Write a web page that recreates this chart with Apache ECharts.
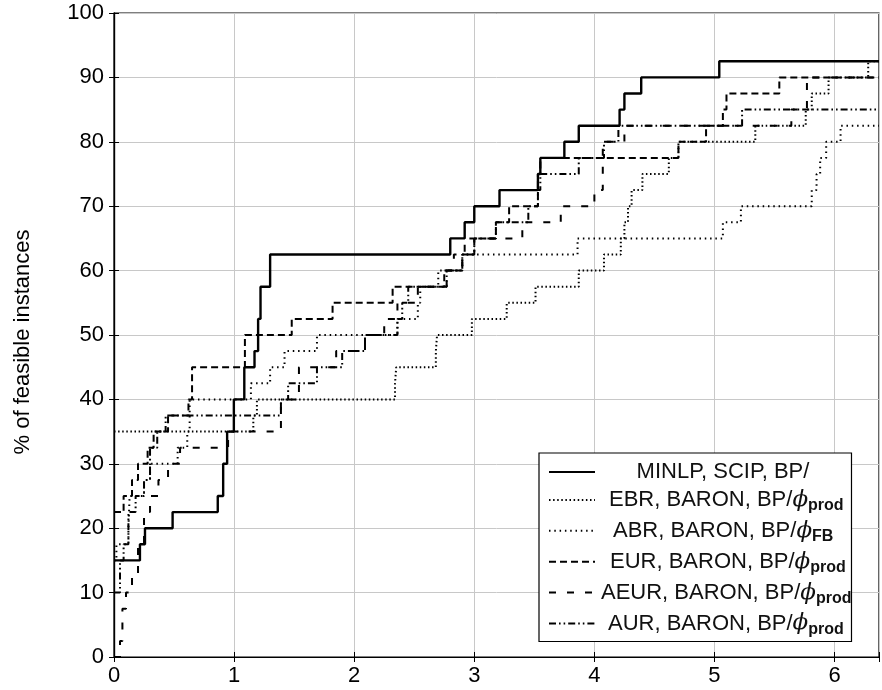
<!DOCTYPE html>
<html><head><meta charset="utf-8">
<script src="https://cdn.jsdelivr.net/npm/echarts@6/dist/echarts.min.js"></script>
<style>html,body{margin:0;padding:0;background:#fff}#c{width:882px;height:690px}</style>
</head><body><div id="c"></div>
<script>
const xTicks = [0, 1, 2, 3, 4, 5, 6];
const yTicks = [0, 10, 20, 30, 40, 50, 60, 70, 80, 90, 100];
const xMax = 6.37;

const minlpX = [0, 0.216, 0.258, 0.488, 0.864, 0.909, 0.942, 0.998, 1.085, 1.17, 1.20, 1.22, 1.30, 2.80, 2.92, 3.0, 3.21, 3.53, 3.55, 3.75, 3.87, 4.21, 4.25, 4.39, 5.04, 6.37];
const minlpY = [15, 17.5, 20, 22.5, 25, 30, 35, 40, 45, 47.5, 52.5, 57.5, 62.5, 65, 67.5, 70, 72.5, 75, 77.5, 80, 82.5, 85, 87.5, 90, 92.5, 92.5];

const ebrX = [0, 1.16, 1.19, 2.34, 2.35, 2.68, 2.69, 2.98, 3.27, 3.51, 3.87, 4.08, 4.22, 4.25, 4.28, 4.31, 4.40, 4.62, 4.70, 5.34, 5.76, 5.81, 5.95, 6.28, 6.37];
const ebrY = [35, 37.5, 40, 42.5, 45, 47.5, 50, 52.5, 55, 57.5, 60, 62.5, 65, 67.5, 70, 72.5, 75, 77.5, 80, 82.5, 85, 87.5, 90, 92.5, 92.5];

const abrX = [0, 0.02, 0.12, 0.13, 0.25, 0.30, 0.53, 0.61, 0.63, 1.14, 1.30, 1.42, 1.69, 2.36, 2.53, 2.55, 2.70, 2.90, 3.86, 5.07, 5.22, 5.81, 5.85, 5.88, 5.93, 6.05, 6.37];
const abrY = [15, 17.5, 20, 25, 27.5, 30, 32.5, 35, 40, 42.5, 45, 47.5, 50, 52.5, 55, 57.5, 60, 62.5, 65, 67.5, 70, 72.5, 75, 77.5, 80, 82.5, 82.5];

const eurX = [0, 0.08, 0.15, 0.20, 0.28, 0.33, 0.45, 0.62, 0.65, 1.09, 1.48, 1.82, 2.32, 2.75, 2.90, 3.0, 3.18, 3.29, 3.53, 3.55, 4.70, 4.93, 5.07, 5.10, 5.54, 6.37];
const eurY = [22.5, 25, 27.5, 30, 32.5, 35, 37.5, 40, 45, 50, 52.5, 55, 57.5, 60, 62.5, 65, 67.5, 70, 75, 77.5, 80, 82.5, 85, 87.5, 90, 90];

const aeurX = [0, 0.05, 0.07, 0.10, 0.15, 0.20, 0.25, 0.30, 0.37, 0.45, 0.55, 0.95, 1.39, 1.54, 1.85, 2.09, 2.25, 2.36, 2.53, 2.77, 2.83, 2.92, 3.40, 3.72, 4.00, 4.07, 4.25, 5.64, 5.77, 6.37];
const aeurY = [0, 2.5, 7.5, 10, 12.5, 17.5, 22.5, 25, 27.5, 30, 32.5, 35, 40, 45, 47.5, 50, 52.5, 55, 57.5, 60, 62.5, 65, 67.5, 70, 72.5, 80, 82.5, 85, 90, 90];

const aurX = [0, 0.05, 0.08, 0.12, 0.18, 0.25, 0.30, 0.36, 0.43, 1.39, 1.45, 1.69, 1.90, 2.09, 2.36, 2.40, 2.45, 2.77, 2.90, 3.0, 3.18, 3.45, 3.53, 3.55, 3.87, 4.08, 4.20, 5.23, 6.37];
const aurY = [10, 15, 17.5, 22.5, 25, 27.5, 32.5, 35, 37.5, 40, 42.5, 45, 47.5, 50, 52.5, 55, 57.5, 60, 62.5, 65, 67.5, 70, 72.5, 75, 77.5, 80, 82.5, 85, 85];

const names = ['MINLP, SCIP, BP/', 'EBR, BARON, BP/ϕprod', 'ABR, BARON, BP/ϕFB', 'EUR, BARON, BP/ϕprod', 'AEUR, BARON, BP/ϕprod', 'AUR, BARON, BP/ϕprod'];
const legendIndent = [0, 9, 13, 10, 1, 8];

const FONT = 'Liberation Sans';
const pairs = (xs, ys) => xs.map((x, i) => [x, ys[i]]);

function mk(name, xs, ys, width, dash) {
  return {
    name: name, type: 'line', step: 'end', data: pairs(xs, ys),
    showSymbol: false, symbol: 'none', clip: true, animation: false,
    lineStyle: { color: '#000', width: width, type: dash, cap: 'butt' },
    itemStyle: { color: '#000' },
    emphasis: { disabled: true }
  };
}

const chart = echarts.init(document.getElementById('c'), null, { renderer: 'canvas' });
const legendRich = {
  c: { fontSize: 22, fontFamily: FONT, width: 246, align: 'center', color: '#111' },
  s: { fontSize: 22, fontFamily: FONT, width: 1, color: '#111' },
  n: { fontSize: 22, fontFamily: FONT, color: '#111' },
  phi: { fontSize: 23, fontFamily: 'DejaVu Serif', fontStyle: 'italic', color: '#111' },
  sub: { fontSize: 16, fontFamily: FONT, fontWeight: 'bold', color: '#111', padding: [12, 0, 0, 0] }
};
chart.setOption({
  animation: false,
  backgroundColor: '#fff',
  grid: { left: 114, right: 2, top: 13, bottom: 33, show: true, borderColor: '#000', borderWidth: 1.2, containLabel: false },
  xAxis: [{
    type: 'value', min: 0, max: xMax, interval: 1,
    axisLine: { show: true, onZero: false, lineStyle: { color: '#000', width: 1.2 } },
    axisTick: { show: true, inside: true, length: 5, lineStyle: { color: '#000' } },
    axisLabel: { fontSize: 22, fontFamily: FONT, color: '#000', margin: 8, showMinLabel: true, showMaxLabel: true, hideOverlap: false,
      formatter: v => (xTicks.indexOf(v) >= 0 ? String(v) : '') },
    splitLine: { show: true, lineStyle: { color: '#c8c8c8', width: 1 } }
  }, {
    type: 'value', position: 'top', min: 0, max: xMax, interval: 1,
    axisLine: { show: true, lineStyle: { color: '#000', width: 1.2 } },
    axisTick: { show: true, inside: true, length: 5, lineStyle: { color: '#000' } },
    axisLabel: { show: false }, splitLine: { show: false }
  }],
  yAxis: [{
    type: 'value', min: 0, max: 100, interval: 10,
    name: '% of feasible instances', nameLocation: 'middle', nameGap: 80,
    nameTextStyle: { fontSize: 22, fontFamily: FONT, color: '#000', padding: [0, 0, 0, -14] },
    axisLine: { show: true, onZero: false, lineStyle: { color: '#000', width: 1.2 } },
    axisTick: { show: true, inside: true, length: 5, lineStyle: { color: '#000' } },
    axisLabel: { fontSize: 22, fontFamily: FONT, color: '#000', margin: 10, showMinLabel: true, showMaxLabel: true, hideOverlap: false,
      formatter: v => (yTicks.indexOf(v) >= 0 ? String(v) : '') },
    splitLine: { show: true, lineStyle: { color: '#c8c8c8', width: 1 } }
  }, {
    type: 'value', position: 'right', min: 0, max: 100, interval: 10,
    axisLine: { show: true, lineStyle: { color: '#000', width: 1.2 } },
    axisTick: { show: true, inside: true, length: 5, lineStyle: { color: '#000' } },
    axisLabel: { show: false }, splitLine: { show: false }
  }],
  legend: {
    orient: 'vertical', left: 539, top: 453,
    backgroundColor: '#fff', borderColor: '#000', borderWidth: 1.2, borderRadius: 0,
    padding: [8, 0, 4, 9], itemGap: 5.4, itemWidth: 46, itemHeight: 14,
    selectedMode: false,
    itemStyle: { opacity: 0 },
    textStyle: { fontSize: 22, fontFamily: FONT, color: '#111', rich: legendRich },
    formatter: function (name) {
      const i = names.indexOf(name);
      if (i === 0) return '{c|' + name + '}';
      const k = name.indexOf('ϕ');
      return '{s|}'.repeat(legendIndent[i]) + '{n|' + name.slice(0, k) + '}{phi|ϕ}{sub|' + name.slice(k + 1) + '}';
    },
    data: names
  },
  series: [
    mk(names[0], minlpX, minlpY, 2.4, 'solid'),
    mk(names[1], ebrX, ebrY, 2, [1.5, 2.6]),
    mk(names[2], abrX, abrY, 2, [1.5, 3.8]),
    mk(names[3], eurX, eurY, 2, [7, 4]),
    mk(names[4], aeurX, aeurY, 2, [7, 11]),
    mk(names[5], aurX, aurY, 2, [7, 3, 1.6, 3, 1.6, 3])
  ]
});
</script></body></html>
